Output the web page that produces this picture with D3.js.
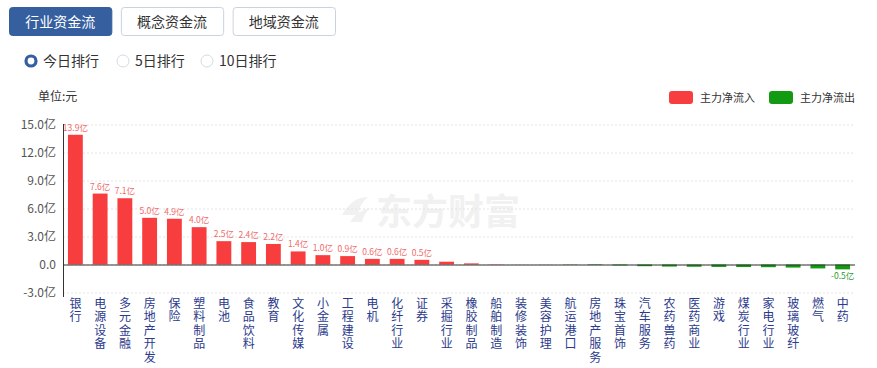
<!DOCTYPE html>
<html><head><meta charset="utf-8">
<script src="https://cdn.jsdelivr.net/npm/d3@7"></script>
<style>
body{margin:0;background:#fff;font-family:"Microsoft YaHei","Noto Sans CJK SC",sans-serif;}
</style></head>
<body><svg id="c" width="877" height="368"></svg>
<script>
const categories = ["银行","电源设备","多元金融","房地产开发","保险","塑料制品","电池","食品饮料","教育","文化传媒","小金属","工程建设","电机","化纤行业","证券","采掘行业","橡胶制品","船舶制造","装修装饰","美容护理","航运港口","房地产服务","珠宝首饰","汽车服务","农药兽药","医药商业","游戏","煤炭行业","家电行业","玻璃玻纤","燃气","中药"];
const values = [13.9,7.6,7.1,5.0,4.9,4.0,2.5,2.4,2.2,1.4,1.0,0.9,0.6,0.6,0.5,0.3,0.12,0.03,0.01,-0.01,-0.03,-0.06,-0.1,-0.18,-0.22,-0.24,-0.26,-0.27,-0.29,-0.33,-0.42,-0.52];
const yTicks = [-3,0,3,6,9,12,15];
const tabs = ["行业资金流","概念资金流","地域资金流"];
const radios = ["今日排行","5日排行","10日排行"];
const legendItems = ["主力净流入","主力净流出"];

const RED="#f73d3d", GREEN="#129a12";
const svg=d3.select("#c");
const font='"Noto Sans CJK SC",sans-serif';

// tabs
const tabX=d3.scaleBand().domain(tabs).range([9,335]).paddingInner(0.085);
tabs.forEach((t,i)=>{
  const g=svg.append("g");
  g.append("rect").attr("x",tabX(t)+0.5).attr("y",7.5).attr("width",tabX.bandwidth()).attr("height",28).attr("rx",3)
   .attr("fill",i===0?"#355f9f":"#fff").attr("stroke",i===0?"#355f9f":"#c8d3e0");
  g.append("text").attr("x",tabX(t)+tabX.bandwidth()/2).attr("y",27).attr("text-anchor","middle")
   .attr("font-size",14).attr("font-family",font).attr("fill",i===0?"#fff":"#333").text(t);
});
// radios
const rx=[31,123,207];
radios.forEach((t,i)=>{
  if(i===0){
    svg.append("circle").attr("cx",rx[i]).attr("cy",61).attr("r",5).attr("fill","#fff").attr("stroke","#355f9f").attr("stroke-width",3.2);
  } else {
    svg.append("circle").attr("cx",rx[i]).attr("cy",61).attr("r",6).attr("fill","#fff").attr("stroke","#d5dbe3");
  }
  svg.append("text").attr("x",rx[i]+12).attr("y",66).attr("font-size",14).attr("font-family",font).attr("fill","#333").text(t);
});
// unit
svg.append("text").attr("x",38).attr("y",101).attr("font-size",12).attr("font-family",font).attr("fill","#333").text("单位:元");
// legend
[[669,RED],[769,GREEN]].forEach((d,i)=>{
  svg.append("rect").attr("x",d[0]).attr("y",91).attr("width",24).attr("height",13).attr("rx",3).attr("fill",d[1]);
  svg.append("text").attr("x",d[0]+31).attr("y",102).attr("font-size",11).attr("font-family",font).attr("fill","#333").text(legendItems[i]);
});

// chart
const x=d3.scaleBand().domain(categories).range([63,855]).paddingInner(0.4).paddingOuter(0.2);
const y=d3.scaleLinear().domain([-3,15]).range([292.5,124.5]);

// watermark
const wm=svg.append("g");
wm.append("text").attr("x",376).attr("y",225).attr("font-size",36).attr("font-weight","bold").attr("font-family",font)
  .attr("fill","#f1f1f1").text("东方财富");
wm.append("path").attr("d","M342,215 q10,-18 26,-18 q-8,6 -10,18 z M350,222 q8,-12 20,-14 q-6,6 -8,14 z").attr("fill","#f1f1f1");

// grid
svg.append("g").selectAll("line").data(yTicks).join("line")
  .attr("x1",63).attr("x2",855).attr("y1",d=>y(d)+0.5).attr("y2",d=>y(d)+0.5)
  .attr("stroke","#e3e3e3").attr("stroke-dasharray","2,2");

// y labels
svg.append("g").selectAll("text").data(yTicks).join("text")
  .attr("x",56).attr("y",d=>y(d)+4.5).attr("text-anchor","end").attr("font-size",12).attr("font-family",font).attr("fill","#555")
  .text(d=>d===0?"0.0":d.toFixed(1)+"亿");

// bars
svg.append("g").selectAll("rect").data(values).join("rect")
  .attr("x",(d,i)=>x(categories[i])).attr("width",x.bandwidth())
  .attr("y",d=>d>=0?y(d):y(0)).attr("height",d=>Math.abs(y(d)-y(0)))
  .attr("fill",d=>d>=0?RED:GREEN);

// value labels
svg.append("g").selectAll("text").data(values.map((v,i)=>({v,i})).filter(d=>Math.abs(d.v)>=0.5)).join("text")
  .attr("x",d=>x(categories[d.i])+x.bandwidth()/2)
  .attr("y",d=>d.v>=0?y(d.v)-4:y(d.v)+10)
  .attr("text-anchor","middle").attr("font-size",8.5).attr("font-family",font)
  .attr("fill",d=>d.v>=0?"#f06a6a":"#2f9a2f")
  .text(d=>d.v.toFixed(1)+"亿");

// axes lines
svg.append("line").attr("x1",63.5).attr("x2",63.5).attr("y1",124).attr("y2",297).attr("stroke","#333");
svg.append("line").attr("x1",63).attr("x2",855).attr("y1",y(0)+0.5).attr("y2",y(0)+0.5).attr("stroke","#333");

// x labels (vertical writing)
svg.append("g").selectAll("text").data(categories).join("text")
  .attr("x",d=>x(d)+x.bandwidth()/2).attr("y",297)
  .style("writing-mode","vertical-rl").style("letter-spacing","1.5px")
  .attr("font-size",12).attr("font-family",font).attr("fill","#2b3a8c")
  .text(d=>d);
</script></body></html>
